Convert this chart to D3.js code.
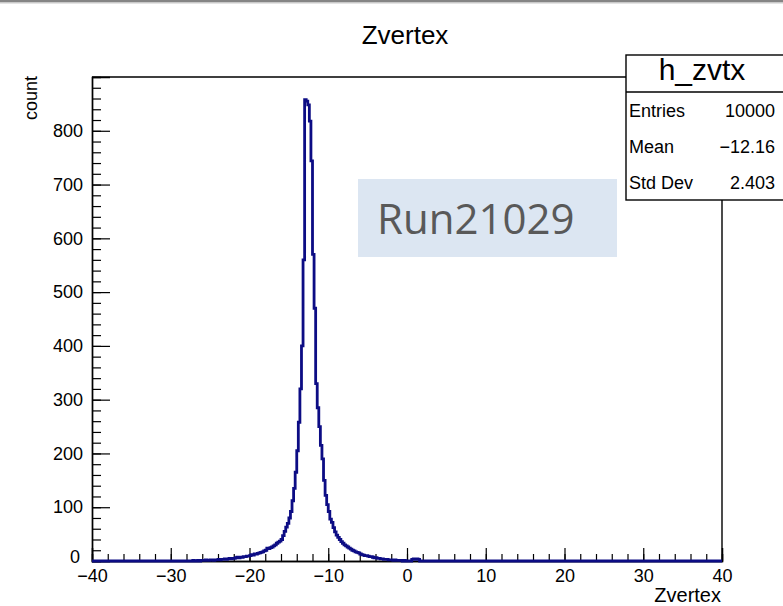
<!DOCTYPE html>
<html><head><meta charset="utf-8">
<script src="https://cdn.jsdelivr.net/npm/d3@7"></script>
<style>
html,body{margin:0;padding:0;background:#fff;}
svg{display:block;}
text{font-family:"Liberation Sans",Arial,Helvetica,sans-serif;fill:#000;}
</style></head><body>
<svg id="chart" width="783" height="606"></svg>
<script>
// Histogram binning: 400 bins of 0.2 cm from -40 to 40
const xMin = -40, xMax = 40, binWidth = 0.2;
// low edge of the first bin listed in `counts`; every other bin is empty
const firstFilledBin = -27.2;
const counts = [
  1, 0, 0, 1, 0, 1, 1, 1, 2, 1,
  1, 2, 2, 1, 2, 2, 3, 2, 3, 3,
  4, 3, 4, 5, 4, 5, 5, 6, 7, 6,
  7, 7, 8, 8, 9, 9, 10, 12, 11, 13,
  13, 14, 15, 16, 17, 19, 20, 24, 23, 25,
  26, 28, 30, 33, 35, 37, 40, 47, 55, 63,
  70, 80, 92, 112, 135, 165, 205, 258, 320, 400,
  560, 858, 855, 848, 818, 744, 570, 470, 330, 285,
  250, 215, 190, 150, 122, 105, 92, 78, 72, 62,
  54, 48, 44, 40, 36, 33, 30, 28, 26, 24,
  22, 20, 19, 17, 16, 15, 13, 12, 11, 10,
  10, 9, 8, 8, 7, 6, 6, 5, 5, 4,
  4, 3, 3, 3, 2, 2, 2, 1, 2, 1,
  1, 1, 1, 0, 1, 0, 0, 0, 0, 3,
  4, 3, 4, 3
];
const yMax = 900;
const xMajorTicks = [-40, -30, -20, -10, 0, 10, 20, 30, 40];
const xMinorTicks = d3.range(-40, 40.001, 2);
const yMajorTicks = [0, 100, 200, 300, 400, 500, 600, 700, 800];
const yMinorTicks = d3.range(0, 900, 20);

const histTitle = "Zvertex";
const xTitle = "Zvertex";
const yTitle = "count";
const statsName = "h_zvtx";
const statsLabels = ["Entries", "Mean", "Std Dev"];
const statsValues = ["10000", "\u221212.16", "2.403"];
const runLabel = "Run21029";

const svg = d3.select("#chart");
const W = 783, H = 606;
const frame = {left: 92, right: 722, top: 77, bottom: 561};

const x = d3.scaleLinear().domain([xMin, xMax]).range([frame.left, frame.right]);
const y = d3.scaleLinear().domain([0, yMax]).range([frame.bottom, frame.top]);

// window edge at the top
svg.append("rect").attr("x", 0).attr("y", 0).attr("width", W).attr("height", 2).attr("fill", "#858585");
svg.append("rect").attr("x", 0).attr("y", 2).attr("width", W).attr("height", 1.5).attr("fill", "#c9c9c9");

// frame (top and right sides)
svg.append("path")
  .attr("d", `M${frame.left},${frame.top}H${frame.right}V${frame.bottom}`)
  .attr("fill", "none").attr("stroke", "#000").attr("stroke-width", 1.4);

// axes with ticks pointing into the frame
function styleAxis(g) {
  g.select(".domain").attr("stroke", "#000").attr("stroke-width", 1.4);
  g.selectAll(".tick line").attr("stroke", "#000").attr("stroke-width", 1.2);
  g.selectAll("text").attr("font-family", "Liberation Sans, Arial, sans-serif")
    .attr("font-size", 18).attr("fill", "#000");
}

const xMinorG = svg.append("g").attr("transform", `translate(0,${frame.bottom})`)
  .call(d3.axisBottom(x).tickValues(xMinorTicks).tickSize(-7).tickFormat(""));
styleAxis(xMinorG);
const xMajorG = svg.append("g").attr("transform", `translate(0,${frame.bottom})`)
  .call(d3.axisBottom(x).tickValues(xMajorTicks).tickSize(-13).tickPadding(8).tickFormat(d3.format("d")));
styleAxis(xMajorG);

const yMinorG = svg.append("g").attr("transform", `translate(${frame.left},0)`)
  .call(d3.axisLeft(y).tickValues(yMinorTicks).tickSize(-9).tickFormat(""));
styleAxis(yMinorG);
const yMajorG = svg.append("g").attr("transform", `translate(${frame.left},0)`)
  .call(d3.axisLeft(y).tickValues(yMajorTicks).tickSize(-18).tickPadding(9).tickFormat(d3.format("d")));
styleAxis(yMajorG);
// the zero label of the count axis sits a little higher, clear of the x labels
yMajorG.selectAll(".tick").filter(d => d === 0).select("text")
  .attr("dy", "0.1em").attr("x", -12);

// histogram outline
const nBins = Math.round((xMax - xMin) / binWidth);
const offset = Math.round((firstFilledBin - xMin) / binWidth);
const bins = d3.range(nBins).map(i => ({
  x0: xMin + i * binWidth,
  x1: xMin + (i + 1) * binWidth,
  n: (i >= offset && i - offset < counts.length) ? counts[i - offset] : 0
}));
const pts = [[xMin, 0]];
bins.forEach(b => { pts.push([b.x0, b.n]); pts.push([b.x1, b.n]); });
pts.push([xMax, 0]);
svg.append("path")
  .attr("d", d3.line().x(d => x(d[0])).y(d => y(d[1]))(pts))
  .attr("fill", "none").attr("stroke", "#0c0c84").attr("stroke-width", 2.8)
  .attr("stroke-linejoin", "miter");

// titles
svg.append("text").attr("x", 405).attr("y", 44).attr("text-anchor", "middle")
  .attr("font-size", 26).text(histTitle);
svg.append("text").attr("x", 721).attr("y", 602).attr("text-anchor", "end")
  .attr("font-size", 20).text(xTitle);
svg.append("text").attr("transform", "translate(37,76) rotate(-90)")
  .attr("text-anchor", "end").attr("font-size", 18).text(yTitle);

// statistics box
const sb = {x: 626, y: 55, w: 170, h: 145, titleH: 37};
svg.append("rect").attr("x", sb.x).attr("y", sb.y).attr("width", sb.w).attr("height", sb.h)
  .attr("fill", "#fff").attr("stroke", "#000").attr("stroke-width", 1.4);
svg.append("line").attr("x1", sb.x).attr("x2", sb.x + sb.w)
  .attr("y1", sb.y + sb.titleH).attr("y2", sb.y + sb.titleH)
  .attr("stroke", "#000").attr("stroke-width", 1.4);
svg.append("text").attr("x", 702).attr("y", 80).attr("text-anchor", "middle")
  .attr("font-size", 30).text(statsName);
const rowH = (sb.h - sb.titleH) / statsLabels.length;
statsLabels.forEach((lab, i) => {
  const base = sb.y + sb.titleH + rowH * (i + 0.5) + 6.5;
  svg.append("text").attr("x", 629).attr("y", base).attr("font-size", 18).text(lab);
  svg.append("text").attr("x", 775).attr("y", base).attr("text-anchor", "end")
    .attr("font-size", 18).text(statsValues[i]);
});

// run label
svg.append("rect").attr("x", 358).attr("y", 179).attr("width", 259).attr("height", 78)
  .attr("fill", "#dce6f2");
svg.append("text").attr("x", 377).attr("y", 234)
  .attr("font-size", 42)
  .style("font-family", "'Open Sans', Lato, sans-serif")
  .style("fill", "#595959").text(runLabel);
</script>
</body></html>
